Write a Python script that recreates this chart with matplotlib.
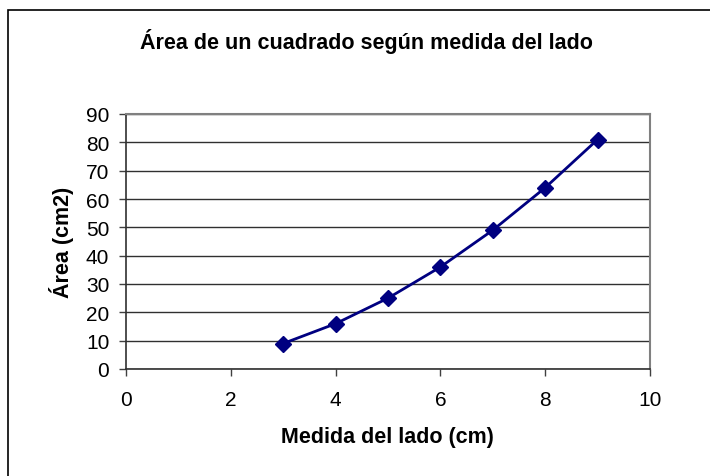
import matplotlib
matplotlib.use('Agg')
from matplotlib import pyplot as plt
from matplotlib.patches import Rectangle

lado = [3, 4, 5, 6, 7, 8, 9]
area = [9, 16, 25, 36, 49, 64, 81]
xticks = [0, 2, 4, 6, 8, 10]
yticks = [0, 10, 20, 30, 40, 50, 60, 70, 80, 90]

plt.rcParams['font.family'] = ['Liberation Sans', 'DejaVu Sans']

fig = plt.figure(figsize=(7.1, 4.77), dpi=100)
ax = fig.add_axes([126/710, 1-370/477, 524/710, 255/477])

# chart frame, runs off the bottom and right edges
fig.patches.append(Rectangle((8/710, -0.2), 1.2, 1-11/477+0.2, transform=fig.transFigure,
                             fill=False, edgecolor='black', linewidth=1.2))

ax.plot(lado, area, color='#000080', linewidth=2, marker='D', markersize=8, zorder=3)

ax.set_xlim(0, 10)
ax.set_ylim(0, 90)
ax.set_xticks(xticks)
ax.set_yticks(yticks)
ax.tick_params(labelsize=15, length=5, width=1, color='#404040', pad=7)
ax.tick_params(axis='x', pad=10)
ax.yaxis.grid(True, color='#303030', linewidth=1)
ax.set_axisbelow(True)

for s in ['top', 'right']:
    ax.spines[s].set_color('#808080')
    ax.spines[s].set_linewidth(1.5)
for s in ['left', 'bottom']:
    ax.spines[s].set_color('#303030')
    ax.spines[s].set_linewidth(1.2)

fig.text(366/710, 1-42/477, 'Área de un cuadrado según medida del lado', ha='center', va='center',
         fontsize=15.5, fontweight='bold')
fig.text(387/710, 1-438/477, 'Medida del lado (cm)', ha='center', va='center',
         fontsize=15.5, fontweight='bold')
fig.text(61/710, 1-242/477, 'Área (cm2)', ha='center', va='center', rotation=90,
         fontsize=15.5, fontweight='bold')

fig.savefig('out.png', dpi=100)
